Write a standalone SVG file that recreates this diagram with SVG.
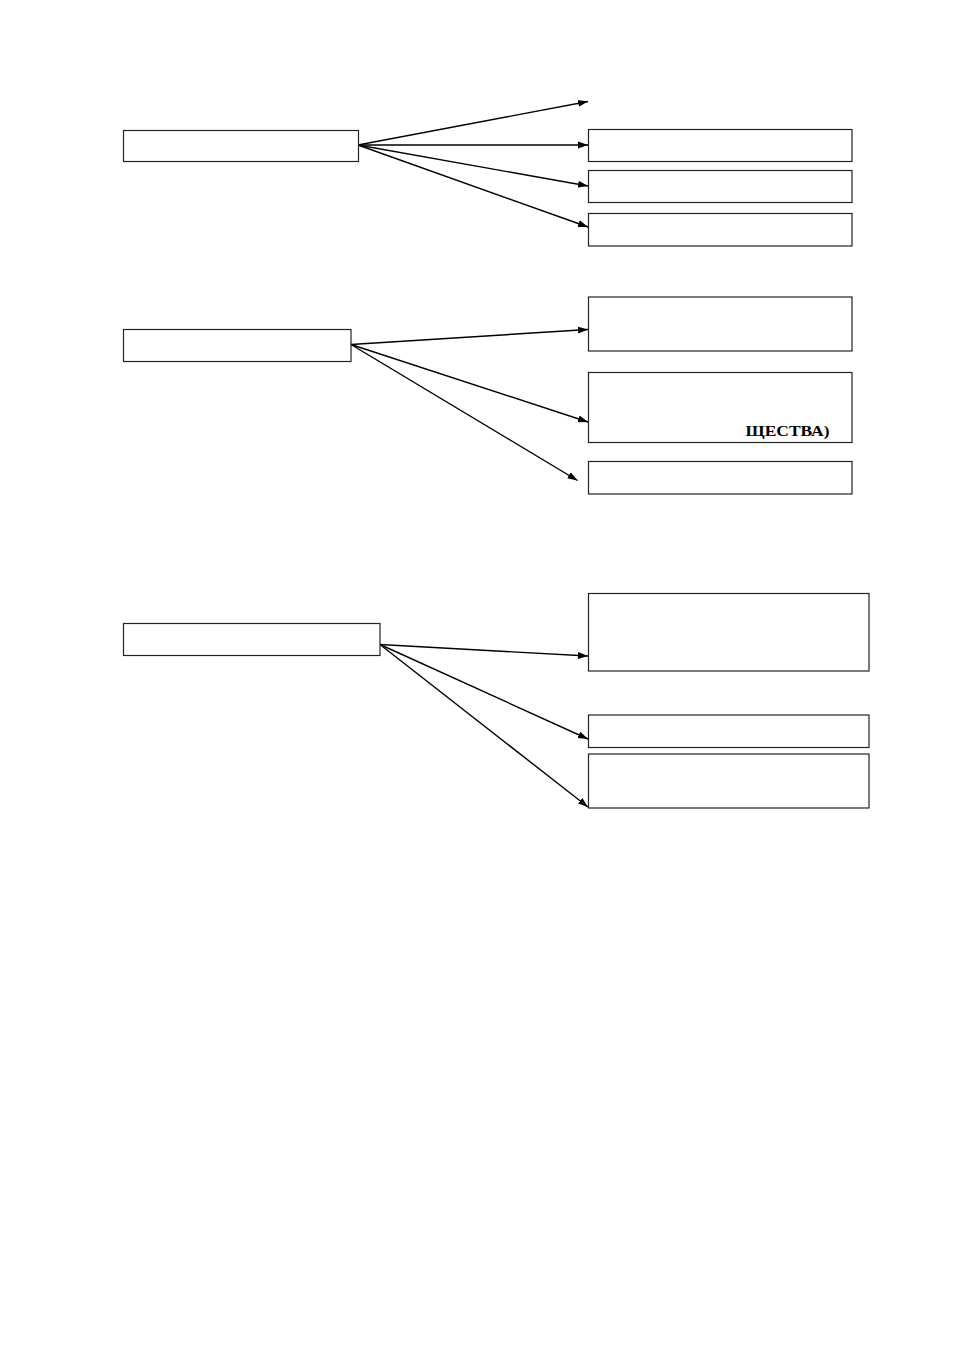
<svg xmlns="http://www.w3.org/2000/svg" width="954" height="1350" viewBox="0 0 954 1350">
<style>
.box{fill:#fff;stroke:#222;stroke-width:1.2}
.conn{stroke:#000;stroke-width:1.4;fill:none;marker-end:url(#ah)}
.lbl{font-family:"Liberation Serif","Times New Roman",serif;font-weight:bold;font-size:15px;fill:#000}
</style>
<defs>
<marker id="ah" markerUnits="userSpaceOnUse" markerWidth="11" markerHeight="8" refX="10" refY="4" orient="auto">
<path d="M0,0.5 L10,4 L0,7.5 z" fill="#000"/>
</marker>
</defs>
<rect width="954" height="1350" fill="#fff"/>
<g id="connectors">
<line class="conn" x1="358" y1="145" x2="588" y2="101.5"/>
<line class="conn" x1="358" y1="145" x2="588" y2="145"/>
<line class="conn" x1="358" y1="145" x2="588" y2="186"/>
<line class="conn" x1="358" y1="145" x2="588" y2="227"/>
<line class="conn" x1="351" y1="344.5" x2="588" y2="329.5"/>
<line class="conn" x1="351" y1="344.5" x2="588" y2="422"/>
<line class="conn" x1="351" y1="344.5" x2="577.5" y2="480.5"/>
<line class="conn" x1="380" y1="644.5" x2="588" y2="656"/>
<line class="conn" x1="380" y1="644.5" x2="588" y2="739"/>
<line class="conn" x1="380" y1="644.5" x2="588" y2="807"/>
</g>
<g id="n1"><rect class="box" x="123.5" y="130.5" width="235" height="31"/></g>
<g id="n1a"><rect class="box" x="588.5" y="129.5" width="263.5" height="32"/></g>
<g id="n1b"><rect class="box" x="588.5" y="170.5" width="263.5" height="32"/></g>
<g id="n1c"><rect class="box" x="588.5" y="213.5" width="263.5" height="32.5"/></g>
<g id="n2"><rect class="box" x="123.5" y="329.5" width="227.5" height="32"/></g>
<g id="n2a"><rect class="box" x="588.5" y="297" width="263.5" height="54"/></g>
<g id="n2b"><rect class="box" x="588.5" y="372.5" width="263.5" height="70"/><text class="lbl" x="745.5" y="436" textLength="84" lengthAdjust="spacingAndGlyphs">ЩЕСТВА)</text></g>
<g id="n2c"><rect class="box" x="588.5" y="461.5" width="263.5" height="32.5"/></g>
<g id="n3"><rect class="box" x="123.5" y="623.5" width="256.5" height="32"/></g>
<g id="n3a"><rect class="box" x="588.5" y="593.5" width="280.5" height="77.5"/></g>
<g id="n3b"><rect class="box" x="588.5" y="715" width="280.5" height="32.5"/></g>
<g id="n3c"><rect class="box" x="588.5" y="754" width="280.5" height="54"/></g>
</svg>
